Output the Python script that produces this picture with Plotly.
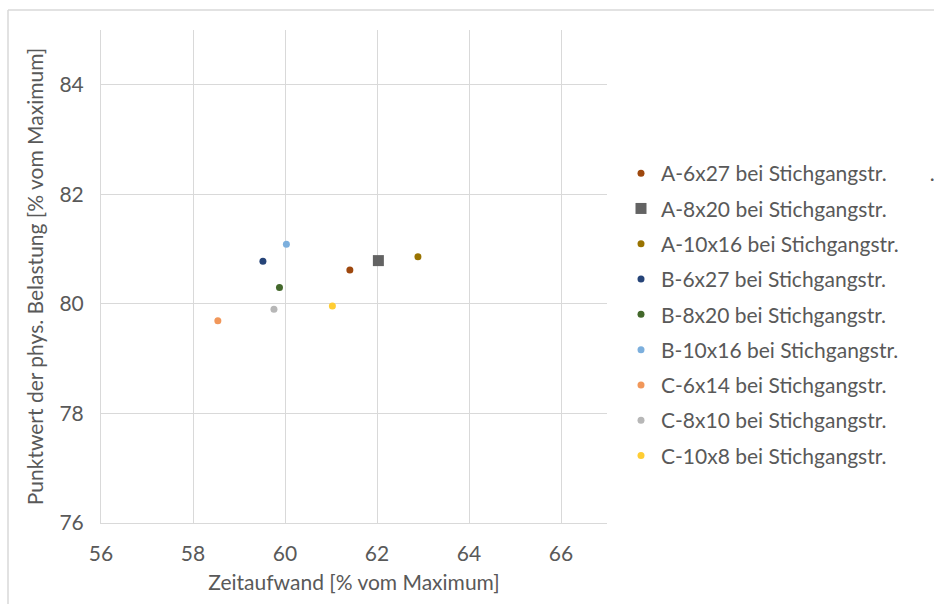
import plotly.graph_objects as go

# Layout variants (Stichgang configurations)
names = [
    "A-6x27 bei Stichgangstr.",
    "A-8x20 bei Stichgangstr.",
    "A-10x16 bei Stichgangstr.",
    "B-6x27 bei Stichgangstr.",
    "B-8x20 bei Stichgangstr.",
    "B-10x16 bei Stichgangstr.",
    "C-6x14 bei Stichgangstr.",
    "C-8x10 bei Stichgangstr.",
    "C-10x8 bei Stichgangstr.",
]
zeitaufwand = [61.41, 62.03, 62.89, 59.52, 59.88, 60.03, 58.54, 59.76, 61.03]
belastung = [80.62, 80.79, 80.86, 80.78, 80.30, 81.09, 79.69, 79.90, 79.96]
colors = ["#9E480E", "#636363", "#997300", "#264478", "#43682B",
          "#7CAFDD", "#F1975A", "#B7B7B7", "#FFCD33"]
symbols = ["circle", "square", "circle", "circle", "circle",
           "circle", "circle", "circle", "circle"]
sizes = [7, 11, 7, 7, 7, 7, 7, 7, 7]

FONT = "Lato"
FS = 21
GREY = "#595959"
GRID = "#D9D9D9"

fig = go.Figure()
for i, n in enumerate(names):
    label = n
    if i == 0:
        label = n + "\u00a0" * 8 + "."
    fig.add_trace(go.Scatter(
        x=[zeitaufwand[i]], y=[belastung[i]],
        mode="markers",
        name=label,
        legendgroup=f"g{i}",
        marker=dict(color=colors[i], symbol=symbols[i], size=sizes[i],
                    line=dict(width=0)),
    ))

W, H = 934, 604
ml, mr, mt, mb = 101, 327, 30, 81
pw, ph = W - ml - mr, H - mt - mb

def px_x(p):
    return (p - ml) / pw

def px_y(p):
    return (H - mb - p) / ph

fig.update_layout(
    width=W, height=H,
    margin=dict(l=ml, r=mr, t=mt, b=mb, autoexpand=False),
    paper_bgcolor="white", plot_bgcolor="white",
    font=dict(family=FONT, size=FS, color=GREY),
    showlegend=True,
    legend=dict(
        x=px_x(621), y=px_y(153), xanchor="left", yanchor="top",
        font=dict(family=FONT, size=FS, color=GREY),
        tracegroupgap=5, itemsizing="trace",
        bgcolor="rgba(0,0,0,0)",
    ),
    xaxis=dict(
        range=[56, 67], dtick=2, tick0=56,
        showgrid=True, gridcolor=GRID, gridwidth=1,
        showline=True, linecolor=GRID, linewidth=1,
        zeroline=False, ticks="", ticklabelstandoff=12,
        tickfont=dict(family=FONT, size=FS, color=GREY),
        title=dict(text="Zeitaufwand [% vom Maximum]",
                   font=dict(family=FONT, size=FS, color=GREY), standoff=11),
    ),
    yaxis=dict(
        range=[76, 85], dtick=2, tick0=76,
        showgrid=True, gridcolor=GRID, gridwidth=1,
        showline=True, linecolor=GRID, linewidth=1,
        zeroline=False, ticks="", ticklabelstandoff=12,
        tickfont=dict(family=FONT, size=FS, color=GREY),
        title=dict(text="Punktwert der phys. Belastung [% vom Maximum]",
                   font=dict(family=FONT, size=FS, color=GREY), standoff=10),
    ),
    shapes=[
        # chart frame (top and left edges)
        dict(type="line", xref="paper", yref="paper",
             x0=px_x(8), x1=px_x(W + 5), y0=px_y(10), y1=px_y(10),
             line=dict(color=GRID, width=1.5)),
        dict(type="line", xref="paper", yref="paper",
             x0=px_x(8), x1=px_x(8), y0=px_y(10), y1=px_y(H + 5),
             line=dict(color=GRID, width=1.5)),
    ],
)

fig.write_html("out.html")
